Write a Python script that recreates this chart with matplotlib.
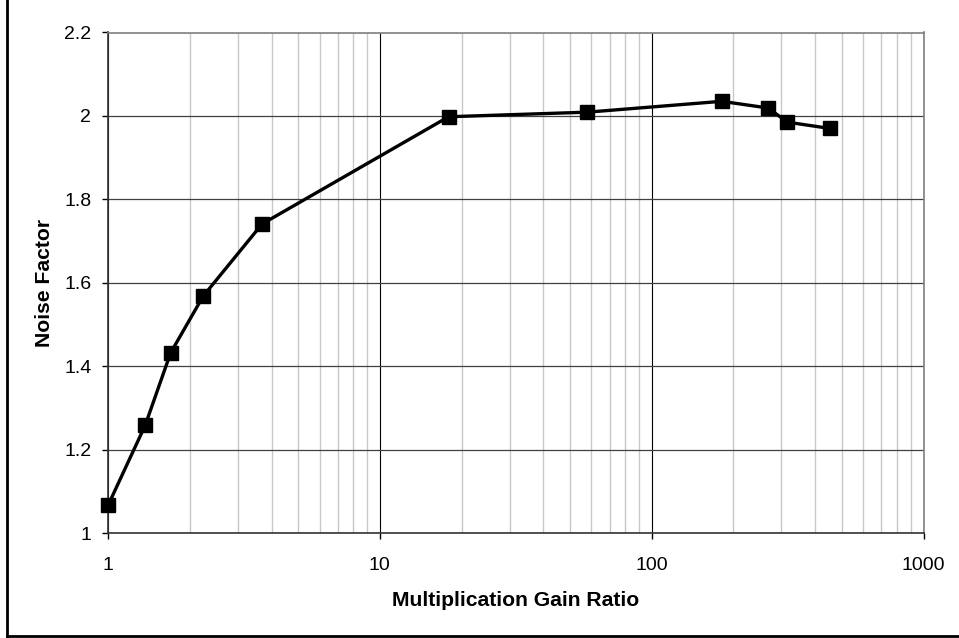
import numpy as np
import matplotlib
matplotlib.use("Agg")
import matplotlib.pyplot as plt
from matplotlib.lines import Line2D
from matplotlib.ticker import LogLocator, FixedLocator, NullFormatter

plt.rcParams['font.family'] = ['Liberation Sans', 'DejaVu Sans']

# data
gain = [1.0, 1.37, 1.70, 2.24, 3.69, 17.9, 58, 181, 268, 316, 452]
noise = [1.066, 1.258, 1.432, 1.568, 1.741, 1.998, 2.009, 2.035, 2.019, 1.985, 1.970]
x_ticks = [1, 10, 100, 1000]
x_tick_labels = ['1', '10', '100', '1000']
y_ticks = [1, 1.2, 1.4, 1.6, 1.8, 2, 2.2]
y_tick_labels = ['1', '1.2', '1.4', '1.6', '1.8', '2', '2.2']

fig = plt.figure(figsize=(9.59, 6.38), dpi=100)
ax = fig.add_axes([108/959, 1 - 533/638, (923.5 - 108)/959, (533 - 32.5)/638])

ax.set_xscale('log')
ax.set_xlim(1, 1000)
ax.set_ylim(1, 2.2)

# grid
ax.xaxis.set_minor_locator(LogLocator(base=10, subs=np.arange(2, 10)))
ax.xaxis.set_minor_formatter(NullFormatter())
ax.grid(True, which='minor', axis='x', color='#c8c8c8', lw=1.0)
ax.grid(True, which='major', axis='x', color='black', lw=0.8)
ax.grid(True, which='major', axis='y', color='#404040', lw=0.9)
ax.set_axisbelow(True)

ax.plot(gain, noise, color='black', lw=2.4, marker='s', markersize=10,
        markerfacecolor='black', markeredgecolor='black', clip_on=False, zorder=3)

ax.xaxis.set_major_locator(FixedLocator(x_ticks))
ax.set_xticklabels(x_tick_labels)
ax.set_yticks(y_ticks)
ax.set_yticklabels(y_tick_labels)
ax.tick_params(axis='both', which='major', direction='out', length=4.5, width=1,
               color='black', labelsize=14, pad=7.5)
ax.tick_params(axis='x', which='major', pad=12.5)
ax.tick_params(axis='x', which='minor', length=0)

for s in ['left', 'bottom']:
    ax.spines[s].set_color('#333333')
    ax.spines[s].set_linewidth(1.2)
for s in ['top', 'right']:
    ax.spines[s].set_color('#808080')
    ax.spines[s].set_linewidth(1.2)

ax.set_xlabel('Multiplication Gain Ratio', fontsize=15.2, fontweight='bold', labelpad=12.5)
ax.set_ylabel('Noise Factor', fontsize=15.2, fontweight='bold', labelpad=7)

# outer chart border (left and bottom edges visible)
fig.add_artist(Line2D([7/959, 7/959], [1 - 636/638, 1.0], transform=fig.transFigure,
                      color='black', lw=2))
fig.add_artist(Line2D([7/959, 1.0], [1 - 636/638, 1 - 636/638], transform=fig.transFigure,
                      color='black', lw=2))

fig.savefig('out.png', dpi=100)
